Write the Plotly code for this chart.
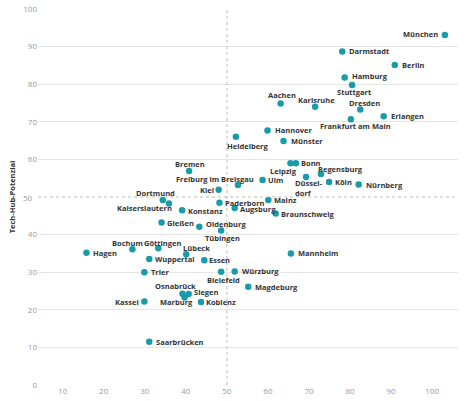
import plotly.graph_objects as go

# Staedte mit x-Wert (horizontal) und Tech-Hub-Potenzial (vertikal)
staedte = [
    "München", "Darmstadt", "Berlin", "Hamburg", "Stuttgart", "Aachen",
    "Karlsruhe", "Dresden", "Erlangen", "Frankfurt am Main", "Hannover",
    "Heidelberg", "Münster", "Leipzig", "Bonn", "Regensburg", "Düssel-<br>dorf",
    "Köln", "Nürnberg", "Ulm", "Freiburg im Breisgau", "Bremen", "Kiel",
    "Dortmund", "Kaiserslautern", "Konstanz", "Paderborn", "Mainz",
    "Augsburg", "Braunschweig", "Gießen", "Oldenburg", "Tübingen", "Hagen",
    "Bochum", "Göttingen", "Lübeck", "Wuppertal", "Essen", "Trier",
    "Bielefeld", "Würzburg", "Mannheim", "Magdeburg", "Osnabrück", "Siegen",
    "Marburg", "Kassel", "Koblenz", "Saarbrücken",
]
x_werte = [
    103.1, 78.1, 90.9, 78.7, 80.5, 63.1,
    71.5, 82.5, 88.2, 80.2, 59.9,
    52.2, 63.8, 65.5, 66.8, 72.9, 69.3,
    74.9, 82.1, 58.7, 52.7, 40.8, 48.0,
    34.4, 35.9, 39.1, 48.2, 60.1,
    51.9, 61.9, 34.1, 43.3, 48.6, 15.8,
    27.0, 33.3, 40.1, 31.1, 44.5, 29.9,
    48.6, 51.9, 65.6, 55.2, 39.2, 40.7,
    39.7, 29.9, 43.7, 31.1,
]
potenzial = [
    93.1, 88.7, 85.1, 81.8, 79.8, 74.9,
    74.0, 73.3, 71.5, 70.7, 67.7,
    66.0, 64.9, 59.0, 59.0, 56.1, 55.3,
    54.0, 53.3, 54.5, 53.2, 56.9, 51.9,
    49.2, 48.3, 46.5, 48.5, 49.2,
    47.1, 45.6, 43.2, 42.1, 41.1, 35.2,
    36.1, 36.4, 34.8, 33.5, 33.2, 30.0,
    30.1, 30.2, 35.0, 26.1, 24.3, 24.2,
    23.3, 22.2, 22.1, 11.5,
]

# Beschriftung: Ausrichtung und Versatz in Pixeln (dy positiv = nach unten)
anker = [
    "right", "left", "left", "left", "center", "center",
    "center", "center", "left", "center", "left",
    "center", "left", "center", "left", "center", "left",
    "left", "left", "left", "center", "center", "right",
    "center", "right", "left", "left", "left",
    "left", "left", "left", "left", "center", "left",
    "center", "center", "center", "left", "left", "left",
    "center", "left", "left", "left", "center", "left",
    "center", "right", "left", "left",
]
dx = [
    -6, 6, 6, 6, 2, 1.5,
    1.5, 4, 6, 5, 6,
    12, 6, -6.5, 4, 20, -12.5,
    4.5, 6, 4, -23, 1.3, -4,
    -7.3, 4, 4.5, 4.5, 4.5,
    4, 4, 4.5, 5.5, 1, 6,
    -5.3, 4.3, 10, 4.5, 4, 6,
    2, 6, 6, 6, -7, 4,
    -8.3, -4, 4, 6,
]
dy = [
    -1, 0, 0, -1, 7.3, -8,
    -6.7, -6.3, 0, 7.3, 0,
    9, 0, 7.4, 0, -5, 11,
    0, 0, 0, -6, -6.7, 0,
    -6.7, 5, 1, 0, 0,
    1, 0, 0, -2.7, 7.3, 0,
    -6.7, -5.3, -5.7, 0, 0, 0,
    8.3, 0, 0, 0, -7.7, -1.7,
    5, 0, 0, 0,
]

fig = go.Figure()
fig.add_trace(go.Scatter(
    x=x_werte, y=potenzial, mode="markers",
    marker=dict(color="#1a9ba8", size=6.5),
    text=staedte, hoverinfo="text",
))

for name, xv, yv, a, sx, sy in zip(staedte, x_werte, potenzial, anker, dx, dy):
    fig.add_annotation(
        x=xv, y=yv, xref="x", yref="y", text=name, showarrow=False,
        xanchor=a, yanchor="middle", xshift=sx, yshift=-sy, align="left",
        borderpad=0,
        font=dict(family="Open Sans", size=7.5, color="#333333", weight="bold"),
    )

# gepunktete Mittellinien bei 50
fig.add_shape(type="line", x0=50, x1=50, y0=0, y1=100, xref="x", yref="y",
              line=dict(color="#bbbbbb", width=1, dash="dot"))
fig.add_shape(type="line", x0=4, x1=106.3, y0=50, y1=50, xref="x", yref="y",
              line=dict(color="#bbbbbb", width=1, dash="dot"))

fig.update_layout(
    width=468, height=401,
    margin=dict(l=38, r=10, t=9, b=16),
    paper_bgcolor="white", plot_bgcolor="white",
    showlegend=False,
    font=dict(family="Open Sans", size=8, color="#999999"),
)
fig.update_xaxes(range=[4, 106.3], tickvals=[10, 20, 30, 40, 50, 60, 70, 80, 90, 100],
                 showgrid=False, zeroline=False, showline=False, ticks="",
                 automargin=False, tickfont=dict(size=8, color="#999999"))
fig.update_yaxes(range=[0, 100], tickvals=[0, 10, 20, 30, 40, 60, 70, 80, 90, 100],
                 showgrid=True, gridcolor="#e6e6e6", gridwidth=1,
                 zeroline=False, showline=False, ticks="", automargin=False,
                 tickfont=dict(size=8, color="#999999"),
                 title=dict(text="<b>Tech-Hub-Potenzial</b>", standoff=6,
                            font=dict(size=7.5, color="#333333")))
# Beschriftung 50 ohne durchgezogene Linie
fig.add_annotation(x=0, xref="paper", xanchor="right", xshift=-3, y=50, yref="y",
                   text="50", showarrow=False, font=dict(size=8, color="#999999"))

# Seitenrand des Browsers entfernen, keine Werkzeugleiste
fig.write_html("out.html", config={"displayModeBar": False},
               post_script="document.body.style.margin='0';")
